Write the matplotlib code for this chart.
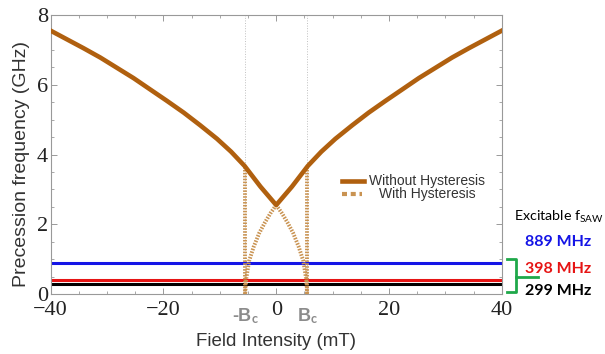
import matplotlib
matplotlib.use("Agg")
import matplotlib.pyplot as plt
import matplotlib.transforms as mtrans
from matplotlib.lines import Line2D
from matplotlib.ticker import MultipleLocator

plt.rcParams['mathtext.fontset'] = 'custom'
plt.rcParams['mathtext.rm'] = 'Lato'
plt.rcParams['mathtext.bf'] = 'Lato:bold'
plt.rcParams['mathtext.it'] = 'Lato:italic'

# ---- data ----
field = [-40, -37.1, -34.2, -31.2, -28.3, -25.3, -22.4, -19.4, -16.4, -13.5, -10.5, -8.0,
         -5.6, -2.8, 0,
         2.8, 5.6, 8.0, 10.5, 13.5, 16.4, 19.4, 22.4, 25.3, 28.3, 31.2, 34.2, 37.1, 40]
freq = [7.55, 7.30, 7.05, 6.78, 6.49, 6.19, 5.87, 5.54, 5.20, 4.84, 4.45, 4.08,
        3.67, 3.08, 2.55,
        3.08, 3.67, 4.08, 4.45, 4.84, 5.20, 5.54, 5.87, 6.19, 6.49, 6.78, 7.05, 7.30, 7.55]

bc = 5.5  # coercive field (mT)
hyst_field_right = [0, 1, 2, 3, 4, 4.8, 5.3, 5.5]
hyst_freq_right = [2.55, 2.32, 2.05, 1.75, 1.35, 0.95, 0.45, 0.0]
hyst_field_left = [0, -1, -2, -3, -4, -4.8, -5.3, -5.5]
hyst_freq_left = [2.55, 2.32, 2.05, 1.75, 1.35, 0.95, 0.45, 0.0]
jump_top = 3.64

saw_freqs_ghz = [0.889, 0.398, 0.299]
saw_colors = ['#1414e6', '#e61414', '#000000']
saw_labels = ['889 MHz', '398 MHz', '299 MHz']

xticks = [-40, -20, 0, 20, 40]
xticklabels = ['\u221240', '\u221220', '0', '20', '40']
yticks = [0, 2, 4, 6, 8]

main_c = '#b0600f'
dot_c = '#c99352'

fig = plt.figure(figsize=(6.05, 3.54), dpi=100)
ax = fig.add_axes([50.7/605, 1-294/354, 451/605, 279/354])

# grey guide lines at +-Bc
for xb in (-bc, bc):
    ax.axvline(xb, color='#c0c0c0', lw=0.7, ls=':', zorder=1)

# SAW lines
for f, c in zip(saw_freqs_ghz, saw_colors):
    ax.axhline(f, color=c, lw=2.2, zorder=2)

# hysteresis dotted
dstyle = dict(color=dot_c, lw=2.8, ls=(0, (0.4, 0.35)), zorder=3, solid_capstyle='butt')
ax.plot(hyst_field_right, hyst_freq_right, **dstyle)
ax.plot(hyst_field_left, hyst_freq_left, **dstyle)
ax.plot([bc, bc], [0, jump_top], **dstyle)
ax.plot([-bc, -bc], [0, jump_top], **dstyle)

# main curve
ax.plot(field, freq, color=main_c, lw=3.3, zorder=4, solid_joinstyle='round')

ax.set_xlim(-40, 40)
ax.set_ylim(0, 8)
ax.set_xticks(xticks)
ax.set_yticks(yticks)
ax.set_xticklabels(xticklabels)
ax.xaxis.set_minor_locator(MultipleLocator(5))
ax.yaxis.set_minor_locator(MultipleLocator(0.5))
ax.tick_params(which='both', direction='in', top=True, right=True, color='#999999')
ax.tick_params(which='major', length=4, width=0.7)
ax.tick_params(which='minor', length=2.5, width=0.6)
for lab in ax.get_xticklabels() + ax.get_yticklabels():
    lab.set_fontfamily('Liberation Serif')
    lab.set_fontsize(16)
    lab.set_color('#222222')
ax.tick_params(axis='x', pad=5)
ax.tick_params(axis='y', pad=2)
for s in ax.spines.values():
    s.set_color('#999999')
    s.set_linewidth(0.8)

ax.set_xlabel('Field Intensity (mT)', family='Liberation Sans', fontsize=13.5, color='#333333')
ax.xaxis.set_label_coords(0.5, -0.14)
ax.set_ylabel('Precession frequency (GHz)', family='Liberation Sans', fontsize=14, color='#333333')
ax.yaxis.set_label_coords(-0.047, 0.465)

# Bc labels
tr = mtrans.blended_transform_factory(ax.transData, ax.transAxes)
ax.text(-bc, -0.045, r'-B$_{\mathbf{c}}$', transform=tr, ha='center', va='top',
        family='Liberation Sans', fontweight='bold', fontsize=13, color='#8c8c8c')
ax.text(bc, -0.045, r'B$_{\mathbf{c}}$', transform=tr, ha='center', va='top',
        family='Liberation Sans', fontweight='bold', fontsize=13, color='#8c8c8c')

# manual legend
ax.add_line(Line2D([0.645, 0.695], [0.406, 0.406], transform=ax.transAxes, color=main_c, lw=3.3))
ax.add_line(Line2D([0.646, 0.690], [0.358, 0.358], transform=ax.transAxes, color=dot_c, lw=3,
                   ls=(0, (1.2, 0.9))))
ax.text(0.834, 0.406, 'Without Hysteresis', transform=ax.transAxes, ha='center', va='center',
        family='Liberation Sans', fontsize=10, color='#333333')
ax.text(0.836, 0.358, 'With Hysteresis', transform=ax.transAxes, ha='center', va='center',
        family='Liberation Sans', fontsize=10, color='#333333')

# right annotations
fig.text(514/605, 1-217/354, r'Excitable f$_{\mathrm{SAW}}$', ha='left', va='center',
         family='Lato', fontsize=10.3, color='black')
for lab, c, yp in zip(saw_labels, saw_colors, [242, 269, 291]):
    fig.text(525/605, 1-yp/354, lab, ha='left', va='center', family='Lato',
             fontweight='bold', fontsize=11.5, color=c)

g = '#1fa84a'
def px(x, y):
    return x/605, 1-y/354
bx = [px(507, 259), px(516, 259), px(516, 292), px(507, 292)]
fig.add_artist(Line2D([p[0] for p in bx], [p[1] for p in bx], color=g, lw=2, transform=fig.transFigure))
m = [px(516, 277), px(538, 277)]
fig.add_artist(Line2D([p[0] for p in m], [p[1] for p in m], color=g, lw=2, transform=fig.transFigure))

fig.savefig('out.png', dpi=100)
